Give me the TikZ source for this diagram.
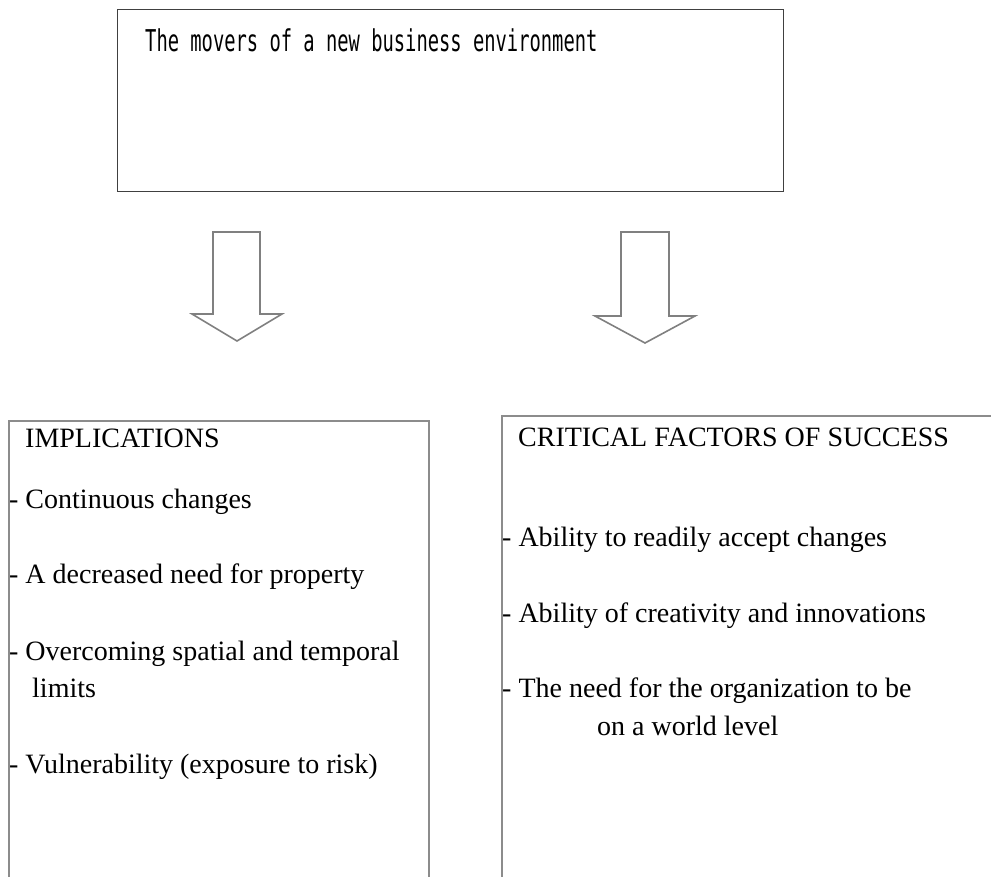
\documentclass[tikz,border=0pt]{standalone}
\usepackage{fontspec}
\usepackage{graphicx}
\setmainfont{Liberation Serif}
\newfontfamily\monofnt{DejaVu Sans Mono}
\tikzset{
  topbox/.style={draw=black!75, line width=1.3bp, anchor=north west, inner sep=0pt},
  listbox/.style={draw=black!45, line width=1.6bp, anchor=north west, inner sep=0pt},
  blockarrow/.style={draw=black!50, line width=1.6bp, fill=white, line join=miter},
  txt/.style={anchor=base west, inner sep=0pt, font=\fontsize{28bp}{34bp}\selectfont},
  monotxt/.style={anchor=base west, inner sep=0pt, font=\monofnt\fontsize{30bp}{34bp}\selectfont}
}
\begin{document}
\begin{tikzpicture}[x=1bp,y=-1bp]
\useasboundingbox (0,0) rectangle (991,877);
\clip (0,0) rectangle (991,877);
% top box
\node[topbox, minimum width=666bp, minimum height=182bp] (movers) at (117,9) {};
\node[monotxt] (moverstxt) at (145,51) {\scalebox{0.626}[1]{The movers of a new business environment}};
% arrows
\draw[blockarrow] (213,232) -- (260,232) -- (260,314) -- (282,314) -- (237,341) -- (192,314) -- (213,314) -- cycle;
\draw[blockarrow] (621,232) -- (669,232) -- (669,316) -- (695,316) -- (645,343) -- (595,316) -- (621,316) -- cycle;
% left box
\node[listbox, minimum width=420bp, minimum height=520bp] (impl) at (8,420) {};
\node[txt] (i0) at (25,447) {IMPLICATIONS};
\node[txt] (i1) at (9,508) {- Continuous changes};
\node[txt] (i2) at (9,583) {- A decreased need for property};
\node[txt] (i3) at (9,660) {- Overcoming spatial and temporal};
\node[txt] (i3b) at (32,697) {limits};
\node[txt] (i4) at (9,773) {- Vulnerability (exposure to risk)};
% right box
\node[listbox, minimum width=520bp, minimum height=520bp] (crit) at (501,415) {};
\node[txt] (c0) at (518,446) {CRITICAL FACTORS OF SUCCESS};
\node[txt] (c1) at (502,546) {- Ability to readily accept changes};
\node[txt] (c2) at (502,622) {- Ability of creativity and innovations};
\node[txt] (c3) at (502,697) {- The need for the organization to be};
\node[txt] (c3b) at (597,735) {on a world level};
\end{tikzpicture}
\end{document}
